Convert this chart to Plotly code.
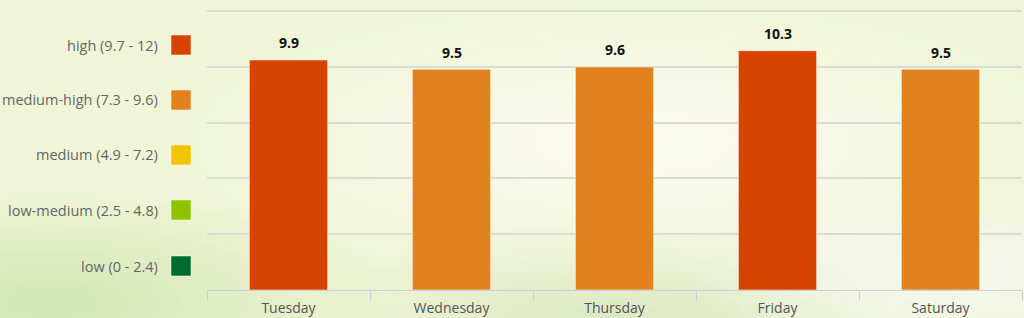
import plotly.graph_objects as go
import base64

days = ["Tuesday", "Wednesday", "Thursday", "Friday", "Saturday"]
values = [9.9, 9.5, 9.6, 10.3, 9.5]
level_names = ["high (9.7 - 12)", "medium-high (7.3 - 9.6)", "medium (4.9 - 7.2)",
               "low-medium (2.5 - 4.8)", "low (0 - 2.4)"]
level_mins = [9.7, 7.3, 4.9, 2.5, 0]
level_colors = ["#D74402", "#E2821E", "#F2C500", "#8DC400", "#006B2E"]


def color_for(v):
    for lo, c in zip(level_mins, level_colors):
        if v >= lo:
            return c
    return level_colors[-1]


bar_colors = [color_for(v) for v in values]

svg = """<svg xmlns='http://www.w3.org/2000/svg' width='1024' height='318'>
<defs>
<radialGradient id='a' cx='0.62' cy='0.45' r='0.45'>
<stop offset='0' stop-color='#fbfbf2' stop-opacity='1'/>
<stop offset='1' stop-color='#fbfbf2' stop-opacity='0'/>
</radialGradient>
<radialGradient id='b' cx='0.05' cy='0.95' r='0.35'>
<stop offset='0' stop-color='#d3e6b4' stop-opacity='1'/>
<stop offset='1' stop-color='#d3e6b4' stop-opacity='0'/>
</radialGradient>
<radialGradient id='c' cx='0.92' cy='0.85' r='0.25'>
<stop offset='0' stop-color='#f6f7f0' stop-opacity='1'/>
<stop offset='1' stop-color='#f6f7f0' stop-opacity='0'/>
</radialGradient>
<radialGradient id='d' cx='0.6' cy='1.0' r='0.3'>
<stop offset='0' stop-color='#dde9c4' stop-opacity='1'/>
<stop offset='1' stop-color='#dde9c4' stop-opacity='0'/>
</radialGradient>
</defs>
<rect width='1024' height='318' fill='#eff5d6'/>
<rect width='1024' height='318' fill='url(#b)'/>
<rect width='1024' height='318' fill='url(#d)'/>
<rect width='1024' height='318' fill='url(#a)'/>
<rect width='1024' height='318' fill='url(#c)'/>
</svg>"""
bg = "data:image/svg+xml;base64," + base64.b64encode(svg.encode()).decode()

FONT = "Open Sans"

fig = go.Figure()
fig.add_trace(go.Bar(
    x=days, y=values,
    marker=dict(color=bar_colors, line=dict(color="rgba(255,255,255,0.5)", width=1)),
    width=0.48,
    cliponaxis=False,
    showlegend=False,
    hoverinfo="skip",
))

L, R, T, B = 207, 2, 10, 28
W, H = 1024, 318
pw = W - L - R
ph = H - T - B

annotations = []
shapes = []
for d, v in zip(days, values):
    annotations.append(dict(
        x=d, y=v, xref="x", yref="y", text=f"<b>{v:g}</b>", showarrow=False,
        yanchor="middle", yshift=17,
        font=dict(family=FONT, size=14, color="#111111"),
    ))

legend_centers_px = [45, 100, 155, 210, 266]
for name, col, cy in zip(level_names, level_colors, legend_centers_px):
    yp = (H - B - cy) / ph
    annotations.append(dict(
        xref="paper", yref="paper", x=(160 - L) / pw, y=yp,
        text=name, showarrow=False, xanchor="right", yanchor="middle",
        font=dict(family=FONT, size=14.5, color="#666666"),
    ))
    x0 = (171 - L) / pw
    x1 = (191 - L) / pw
    hh = 10 / ph
    shapes.append(dict(
        type="rect", xref="paper", yref="paper", x0=x0, x1=x1, y0=yp - hh, y1=yp + hh,
        fillcolor=col, line=dict(color="rgba(255,255,255,0.5)", width=1),
    ))

fig.update_layout(
    width=W, height=H,
    margin=dict(l=L, r=R, t=T, b=B),
    paper_bgcolor="#eff5d6",
    plot_bgcolor="rgba(0,0,0,0)",
    images=[dict(source=bg, xref="paper", yref="paper", x=-L / pw, y=1 + T / ph,
                 sizex=W / pw, sizey=H / ph, sizing="stretch", layer="below",
                 xanchor="left", yanchor="top")],
    annotations=annotations,
    shapes=shapes,
    xaxis=dict(
        showgrid=False, showline=True, linecolor="#c5d2de", linewidth=1,
        ticks="outside", tickson="boundaries", ticklen=10, tickcolor="#c5d2de",
        ticklabelstandoff=5,
        tickfont=dict(family=FONT, size=14, color="#555555"),
        fixedrange=True,
    ),
    yaxis=dict(
        range=[0, 12.05], tickvals=[0, 2.4, 4.8, 7.2, 9.6, 12], showticklabels=False,
        showgrid=True, gridcolor="#dadcd4", gridwidth=2, zeroline=False,
        showline=False, fixedrange=True,
    ),
)

fig.write_html("out.html")
